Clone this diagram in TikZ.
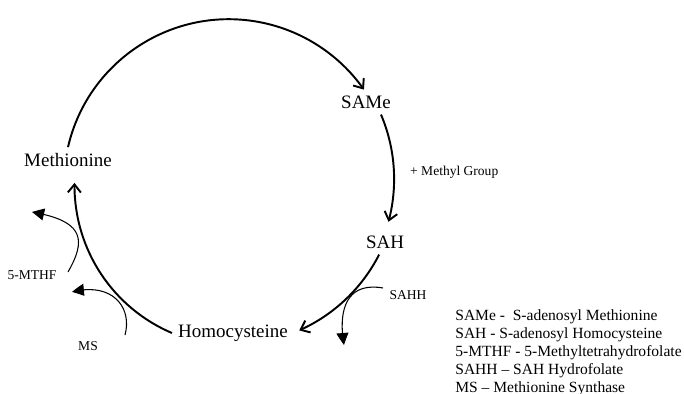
\documentclass[tikz,border=0pt]{standalone}
\usepackage{fontspec}
\setmainfont{Liberation Serif}
\usepackage{tikz}
\usetikzlibrary{arrows.meta, bending, positioning}

\tikzset{
    metab/.style={font=\fontsize{10.8}{13}\selectfont},
    enzyme/.style={font=\fontsize{7.7}{9}\selectfont},
    legend/.style={font=\fontsize{8.85}{10.5}\selectfont, anchor=base west, inner sep=0pt},
    pathway/.style={line width=1.1pt, -{Straight Barb[length=0.16cm, width=0.26cm]}},
    sidearrow/.style={line width=0.6pt, -{Triangle[length=0.24cm, width=0.24cm, bend]}}
}

\begin{document}
\begin{tikzpicture}[scale=1.0]
    \useasboundingbox (0,0) rectangle (13.68,7.88);

    % 1. Metabolites of the cycle
    \node[metab] (met) at (1.36,4.68) {Methionine};
    \node[metab] (same) at (7.32,5.84) {SAMe};
    \node[metab] (sah) at (7.70,3.04) {SAH};
    \node[metab] (hcy) at (4.66,1.22) {Homocysteine};
    \node[enzyme, anchor=west] (methyl) at (8.08,4.44) {+ Methyl Group};

    % 2. Arcs of the cycle
    \draw[pathway] (met.north) arc[start angle=167, end angle=35, radius=3.3];
    \draw[pathway] (same.-40) arc[start angle=23, end angle=-15, radius=3.3];
    \draw[pathway] (sah.-115) arc[start angle=-27, end angle=-66, radius=3.3];
    \draw[pathway] (hcy.west) arc[start angle=247, end angle=179, radius=3.2];

    % 3. Side reactions
    \node[enzyme] (mthf) at (0.64,2.38) {5-MTHF};
    \node[enzyme] (ms) at (1.76,0.96) {MS};
    \node[enzyme] (sahh) at (8.16,1.98) {SAHH};

    \coordinate (mthfa) at (1.36,2.44);
    \coordinate (mthfb) at (0.64,3.64);
    \draw[sidearrow] (mthfa) .. controls +(60:0.8) and +(-10:1.0) .. (mthfb);

    \coordinate (msa) at (2.50,1.18);
    \coordinate (msb) at (1.44,2.04);
    \draw[sidearrow] (msa) .. controls +(75:0.6) and +(15:0.8) .. (msb);

    \coordinate (sahha) at (7.66,2.12);
    \coordinate (sahhb) at (6.88,0.98);
    \draw[sidearrow] (sahha) .. controls +(170:0.75) and +(100:0.7) .. (sahhb);

    % 4. Legend
    \node[legend] (leg1) at (9.10,1.47) {SAMe - \ S-adenosyl Methionine};
    \node[legend] (leg2) at (9.10,1.11) {SAH - S-adenosyl Homocysteine};
    \node[legend] (leg3) at (9.10,0.75) {5-MTHF - 5-Methyltetrahydrofolate};
    \node[legend] (leg4) at (9.10,0.39) {SAHH – SAH Hydrofolate};
    \node[legend] (leg5) at (9.10,0.03) {MS – Methionine Synthase};

\end{tikzpicture}
\end{document}
